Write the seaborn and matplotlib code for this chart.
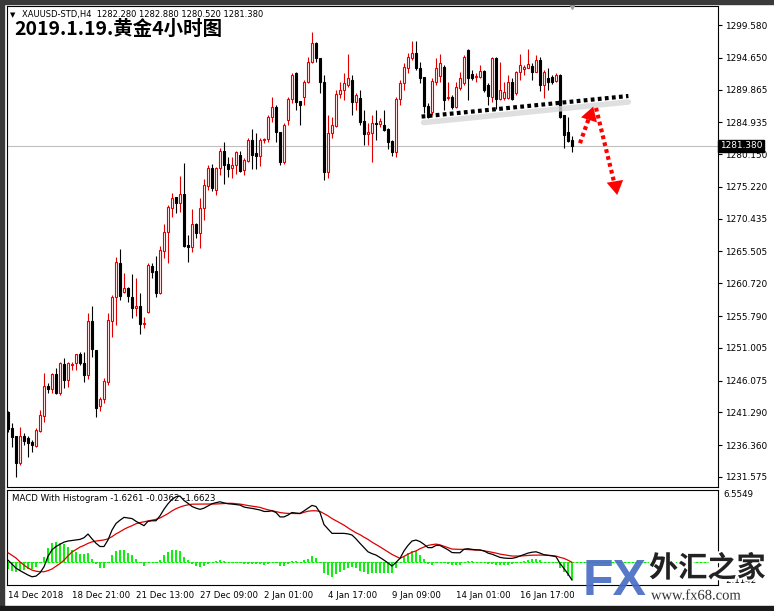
import numpy as np
import pandas as pd
import seaborn as sns
import matplotlib.pyplot as plt
import matplotlib.patheffects as pe
from matplotlib.patches import Rectangle

# XAUUSD H4 candles, 14 Dec 2018 -> 18 Jan 2019
opens = [1241.4, 1238.9, 1237.7, 1233.7, 1237.7, 1237.4, 1236.8, 1236.2, 1238.5, 1240.8,
         1245.3, 1244.8, 1247.1, 1244.2, 1248.6, 1246.2, 1248.4, 1248.7, 1250.1, 1248.7,
         1246.9, 1255.0, 1250.7, 1242.3, 1243.3, 1245.9, 1255.0, 1258.7, 1263.8, 1259.4,
         1260.0, 1258.7, 1257.0, 1257.3, 1254.6, 1256.4, 1263.3, 1262.6, 1259.3, 1265.6,
         1268.4, 1272.0, 1273.7, 1272.8, 1274.2, 1266.5, 1266.2, 1269.6, 1268.3, 1272.0,
         1275.4, 1278.1, 1274.8, 1278.1, 1280.6, 1278.7, 1278.1, 1278.5, 1280.0, 1277.8,
         1279.1, 1282.3, 1280.3, 1279.9, 1282.3, 1282.4, 1285.7, 1287.2, 1283.5, 1279.0,
         1285.3, 1288.4, 1292.4, 1288.1, 1288.7, 1291.0, 1294.0, 1296.9, 1294.6, 1291.0,
         1277.5, 1283.3, 1284.4, 1289.2, 1289.8, 1290.6, 1291.3, 1288.0, 1288.6, 1285.1,
         1283.2, 1283.3, 1284.8, 1284.7, 1284.5, 1283.9, 1282.1, 1280.5, 1288.4, 1290.9,
         1293.1, 1294.6, 1295.4, 1293.1, 1291.8, 1287.4, 1286.5, 1291.0, 1291.9, 1293.3,
         1288.6, 1288.8, 1287.2, 1290.1, 1290.9, 1295.8, 1292.2, 1291.8, 1291.8, 1292.7,
         1290.6, 1288.8, 1294.6, 1288.4, 1288.6, 1288.6, 1291.0, 1289.3, 1292.5, 1293.0,
         1293.1, 1293.4, 1292.5, 1294.3, 1290.6, 1291.6, 1291.8, 1291.2, 1292.1, 1286.0,
         1283.5, 1282.28]
highs = [1241.5, 1239.7, 1237.7, 1239.1, 1238.2, 1237.7, 1237.1, 1238.9, 1241.7, 1247.2,
         1245.7, 1247.2, 1248.0, 1248.9, 1249.5, 1248.9, 1248.9, 1250.1, 1250.4, 1250.4,
         1256.3, 1257.3, 1250.7, 1243.6, 1246.5, 1256.3, 1259.0, 1264.7, 1265.9, 1262.3,
         1260.2, 1262.1, 1261.5, 1259.2, 1255.6, 1263.8, 1263.8, 1264.8, 1266.3, 1269.6,
         1272.5, 1274.3, 1273.7, 1276.9, 1278.8, 1268.0, 1271.9, 1269.8, 1273.5, 1276.4,
         1278.5, 1278.7, 1278.2, 1281.1, 1282.0, 1279.7, 1279.7, 1280.6, 1280.6, 1279.6,
         1282.6, 1283.9, 1283.3, 1282.6, 1282.6, 1286.0, 1288.7, 1287.5, 1283.5, 1284.8,
         1288.7, 1292.4, 1292.5, 1288.1, 1291.3, 1294.8, 1298.5, 1297.0, 1294.6, 1292.1,
         1286.0, 1285.7, 1289.8, 1291.0, 1292.4, 1295.2, 1292.1, 1289.4, 1289.8, 1286.8,
         1284.8, 1286.0, 1286.8, 1285.6, 1286.8, 1284.1, 1282.3, 1288.7, 1291.3, 1293.9,
         1295.4, 1297.2, 1297.2, 1294.0, 1291.8, 1287.8, 1291.6, 1294.6, 1295.2, 1293.6,
         1291.0, 1289.1, 1291.0, 1292.5, 1295.1, 1296.0, 1292.8, 1292.4, 1293.6, 1292.8,
         1290.9, 1294.8, 1294.8, 1294.0, 1291.0, 1292.1, 1291.6, 1292.7, 1295.2, 1293.6,
         1296.0, 1293.9, 1295.1, 1294.8, 1292.8, 1293.1, 1292.1, 1292.4, 1292.2, 1286.0,
         1285.7, 1282.88]
lows = [1238.3, 1236.1, 1231.6, 1233.4, 1236.4, 1234.6, 1235.3, 1236.1, 1238.3, 1239.9,
        1244.2, 1244.2, 1244.1, 1243.9, 1245.0, 1245.1, 1247.7, 1247.7, 1248.4, 1245.9,
        1246.3, 1249.6, 1240.6, 1241.5, 1242.7, 1245.4, 1252.6, 1254.4, 1258.2, 1259.3,
        1257.9, 1255.5, 1255.8, 1253.1, 1254.0, 1256.2, 1261.5, 1258.6, 1259.1, 1264.5,
        1263.8, 1270.7, 1271.3, 1271.4, 1266.2, 1263.9, 1265.4, 1267.5, 1266.0, 1270.2,
        1274.8, 1274.6, 1274.0, 1277.0, 1275.7, 1276.7, 1276.6, 1277.2, 1277.5, 1277.0,
        1279.0, 1277.9, 1277.9, 1278.4, 1281.8, 1282.0, 1285.0, 1282.0, 1278.5, 1278.7,
        1284.5, 1287.8, 1286.8, 1284.5, 1287.5, 1290.9, 1293.9, 1294.0, 1289.4, 1276.3,
        1276.6, 1282.6, 1284.2, 1288.6, 1288.3, 1290.3, 1286.0, 1286.8, 1284.5, 1281.5,
        1281.5, 1279.0, 1282.3, 1284.2, 1283.6, 1280.9, 1279.9, 1279.7, 1287.5, 1289.8,
        1292.4, 1294.3, 1292.8, 1290.9, 1286.3, 1285.6, 1286.0, 1290.5, 1291.0, 1286.8,
        1288.3, 1286.9, 1287.1, 1289.8, 1290.5, 1288.3, 1291.3, 1291.0, 1291.6, 1289.5,
        1287.5, 1288.0, 1286.9, 1288.3, 1288.3, 1288.4, 1288.3, 1289.1, 1291.3, 1292.0,
        1293.1, 1291.3, 1292.5, 1289.6, 1288.6, 1289.8, 1290.7, 1291.0, 1285.6, 1281.1,
        1282.0, 1280.52]
closes = [1238.8, 1237.6, 1233.7, 1237.7, 1237.0, 1236.7, 1236.4, 1238.6, 1240.9, 1245.3,
          1244.8, 1247.1, 1244.2, 1248.7, 1246.2, 1248.7, 1248.6, 1250.1, 1248.7, 1246.9,
          1255.0, 1250.8, 1242.0, 1243.3, 1246.0, 1255.2, 1258.7, 1263.9, 1258.8, 1260.0,
          1258.8, 1257.0, 1257.3, 1254.6, 1254.7, 1263.5, 1262.4, 1259.3, 1265.7, 1268.4,
          1272.2, 1273.5, 1272.8, 1274.2, 1266.3, 1266.2, 1269.6, 1268.3, 1272.0, 1275.5,
          1278.1, 1275.1, 1278.1, 1280.6, 1278.5, 1277.9, 1278.5, 1280.5, 1277.6, 1279.3,
          1282.3, 1280.0, 1279.9, 1282.3, 1282.4, 1285.7, 1287.2, 1283.5, 1279.0, 1284.5,
          1288.4, 1292.1, 1288.0, 1287.5, 1291.0, 1294.0, 1296.9, 1294.6, 1291.0, 1277.5,
          1283.3, 1284.5, 1289.2, 1289.8, 1290.9, 1291.6, 1288.0, 1289.1, 1285.0, 1283.2,
          1283.5, 1284.8, 1284.7, 1285.1, 1283.8, 1282.0, 1280.5, 1288.4, 1290.9, 1293.3,
          1294.8, 1295.4, 1293.1, 1291.6, 1287.4, 1285.7, 1291.2, 1293.1, 1293.9, 1288.3,
          1288.8, 1287.2, 1290.3, 1291.6, 1294.8, 1291.6, 1291.6, 1291.9, 1292.7, 1289.8,
          1288.9, 1294.6, 1288.4, 1289.8, 1289.5, 1291.0, 1288.4, 1292.5, 1293.6, 1293.3,
          1293.7, 1292.5, 1294.3, 1290.6, 1292.5, 1291.0, 1291.0, 1292.1, 1285.7, 1283.0,
          1282.1, 1281.38]

# MACD pane (black = MACD, red = signal), read per bar
macd_line = [0.16, -0.2, -0.57, -0.8, -1.0, -1.2, -1.36, -1.3, -1.0, -0.45,
             0.5, 1.1, 1.4, 1.6, 1.8, 1.9, 1.95, 2.0, 2.05, 2.2,
             2.54, 2.1, 1.7, 1.4, 1.4, 2.0, 2.9, 3.5, 3.8, 4.06,
             4.0, 3.95, 3.7, 3.5, 3.3, 3.7, 3.75, 3.75, 4.2, 4.8,
             5.3, 5.7, 5.94, 6.0, 5.6, 5.34, 5.05, 4.9, 4.79, 4.9,
             5.1, 5.3, 5.4, 5.48, 5.38, 5.3, 5.27, 5.22, 5.18, 5.0,
             4.93, 4.88, 4.8, 4.73, 4.6, 4.6, 4.66, 4.5, 4.1, 4.1,
             4.27, 4.5, 4.45, 4.42, 4.65, 4.9, 5.15, 5.05, 4.5, 3.4,
             3.0, 2.6, 2.6, 2.6, 2.6, 2.55, 2.45, 2.1, 1.69, 1.3,
             0.92, 0.75, 0.62, 0.4, 0.16, -0.1, -0.38, -0.05, 0.32, 1.0,
             1.5, 1.9, 1.99, 1.85, 1.6, 1.3, 1.3, 1.5, 1.5, 1.3,
             1.1, 0.85, 0.83, 0.83, 1.15, 1.2, 1.14, 1.1, 1.08, 1.0,
             0.8, 0.7, 0.55, 0.41, 0.35, 0.32, 0.32, 0.4, 0.53, 0.65,
             0.8, 0.88, 0.92, 0.8, 0.65, 0.6, 0.55, 0.47, -0.14, -0.6,
             -1.1, -1.6623]
signal_line = [0.83, 0.6, 0.35, 0.0, -0.3, -0.55, -0.75, -0.85, -0.9, -0.9,
               -0.8, -0.65, -0.4, -0.15, 0.15, 0.55, 0.9, 1.12, 1.35, 1.5,
               1.69, 1.82, 1.9, 1.95, 2.0, 2.1, 2.3, 2.55, 2.75, 2.97,
               3.15, 3.3, 3.48, 3.58, 3.66, 3.73, 3.8, 3.88, 4.0, 4.2,
               4.4, 4.65, 4.85, 5.0, 5.12, 5.2, 5.26, 5.27, 5.27, 5.27,
               5.27, 5.27, 5.28, 5.3, 5.33, 5.34, 5.34, 5.3, 5.27, 5.2,
               5.14, 5.08, 5.02, 4.97, 4.85, 4.75, 4.67, 4.58, 4.5, 4.45,
               4.42, 4.42, 4.41, 4.4, 4.52, 4.62, 4.66, 4.66, 4.6, 4.4,
               4.2, 3.95, 3.75, 3.55, 3.35, 3.1, 2.88, 2.65, 2.48, 2.25,
               2.05, 1.8, 1.59, 1.37, 1.14, 0.9, 0.68, 0.5, 0.32, 0.5,
               0.7, 0.88, 1.0, 1.2, 1.35, 1.5, 1.57, 1.62, 1.55, 1.42,
               1.3, 1.17, 1.15, 1.14, 1.14, 1.12, 1.1, 1.08, 1.08, 1.0,
               0.95, 0.88, 0.8, 0.71, 0.65, 0.58, 0.53, 0.53, 0.53, 0.56,
               0.59, 0.61, 0.62, 0.62, 0.62, 0.6, 0.57, 0.53, 0.41, 0.32,
               0.15, -0.0362]

price_ticks = [1299.580, 1294.650, 1289.865, 1284.935, 1280.150, 1275.220, 1270.435,
               1265.505, 1260.720, 1255.790, 1251.005, 1246.075, 1241.290, 1236.360, 1231.575]
time_labels = ["14 Dec 2018", "18 Dec 21:00", "21 Dec 13:00", "27 Dec 09:00", "2 Jan 01:00",
               "4 Jan 17:00", "9 Jan 09:00", "14 Jan 01:00", "16 Jan 17:00"]
time_label_bars = [0, 16, 32, 48, 64, 80, 96, 112, 128]
last_price = 1281.38

df = pd.DataFrame({"bar": np.arange(len(closes)), "open": opens, "high": highs,
                   "low": lows, "close": closes, "macd": macd_line, "signal": signal_line})
df["hist"] = df["macd"] - df["signal"]
up = df["close"] >= df["open"]

sns.set_style("white")
plt.rcParams["font.family"] = ["DejaVu Sans", "Noto Sans CJK SC"]
plt.rcParams["text.color"] = "black"
plt.rcParams["xtick.color"] = "black"
plt.rcParams["ytick.color"] = "black"

W, H = 774, 611


def px_box(left, top, right, bottom):
    return [left / W, 1 - bottom / H, (right - left) / W, (bottom - top) / H]


fig = plt.figure(figsize=(W / 100, H / 100), dpi=100)
ax = fig.add_axes(px_box(7, 6, 718, 487))
ax2 = fig.add_axes(px_box(7, 490, 718, 585))

# candles
wick_col = np.where(up, "#e00000", "black")
ax.vlines(df["bar"], df["low"], df["high"], colors=wick_col, lw=0.8, zorder=2)
body_low = df[["open", "close"]].min(axis=1)
body_h = (df["close"] - df["open"]).abs().clip(lower=0.04)
ax.bar(df["bar"][up], body_h[up], bottom=body_low[up], width=0.5,
       facecolor="white", edgecolor="#e00000", lw=0.8, zorder=3)
ax.bar(df["bar"][~up], body_h[~up], bottom=body_low[~up], width=0.5,
       facecolor="black", edgecolor="black", lw=0.8, zorder=3)

ax.axhline(last_price, color="#c0c0c0", lw=0.8, zorder=1)

ax.set_xlim(-0.25, 177.5)
ax.set_ylim(1230.07, 1302.44)
ax.yaxis.tick_right()
ax.set_yticks(price_ticks)
ax.set_yticklabels([f"{t:.3f}" for t in price_ticks])
ax.tick_params(axis="y", direction="out", length=3, width=0.8, pad=2, labelsize=6.4)
ax.tick_params(axis="x", bottom=False, labelbottom=False)
ax.text(1.003, last_price, "1281.380", transform=ax.get_yaxis_transform(), fontsize=6.4,
        color="white", va="center", ha="left", zorder=10, clip_on=False,
        bbox=dict(boxstyle="square,pad=0.2", fc="black", ec="black"))
# chart shift marker
ax.plot([141], [1.0], marker="v", ms=5, color="#a0a0a0", clip_on=False,
        transform=ax.get_xaxis_transform(), zorder=10)

# neckline and arrows
ax.plot([103.9, 155.1], [1284.9, 1288.0], color="#d8d8d8", lw=4, alpha=0.8,
        solid_capstyle="round", zorder=4)
ax.plot([103.4, 155.1], [1285.8, 1288.9], color="black", lw=3, zorder=5,
        dashes=(0.9, 0.8), dash_capstyle="butt")
ax.plot([143.0, 145.6], [1281.8, 1286.2], color="red", lw=3, zorder=5,
        dashes=(0.9, 0.8), dash_capstyle="butt")
ax.annotate("", xy=(146.3, 1287.3), xytext=(145.4, 1285.6), zorder=6,
            arrowprops=dict(arrowstyle="-|>,head_length=1.0,head_width=0.6",
                            color="red", lw=0, shrinkA=0, shrinkB=0))
ax.plot([147.0, 151.5], [1287.1, 1276.0], color="red", lw=3, zorder=5,
        dashes=(0.9, 0.8), dash_capstyle="butt")
ax.annotate("", xy=(152.3, 1274.0), xytext=(151.8, 1275.8), zorder=6,
            arrowprops=dict(arrowstyle="-|>,head_length=1.0,head_width=0.6",
                            color="red", lw=0, shrinkA=0, shrinkB=0))

# MACD pane
ax2.axhline(0, color="#00ee00", lw=0.72, dashes=(3, 1), zorder=1)
ax2.bar(df["bar"], df["hist"], width=0.64, color="#10f010", lw=0,
        antialiased=False, zorder=2)
sns.lineplot(data=df, x="bar", y="signal", ax=ax2, color="#e00000", lw=0.9, zorder=3)
sns.lineplot(data=df, x="bar", y="macd", ax=ax2, color="black", lw=0.9, zorder=4)
ax2.set_xlim(-0.25, 177.5)
ax2.set_ylim(-2.11, 6.5549)
ax2.set_xlabel("")
ax2.set_ylabel("")
ax2.set_yticks([])
ax2.set_xticks(time_label_bars)
ax2.set_xticklabels(time_labels, ha="left")
ax2.tick_params(axis="x", direction="out", length=3, width=0.8, pad=1.5, labelsize=6.2)
ax2.text(1.008, 1.0, "6.5549", transform=ax2.transAxes, fontsize=6.2, va="top", ha="left")
ax2.text(1.008, 0.0, "-2.1142", transform=ax2.transAxes, fontsize=6.2, va="bottom", ha="left")
ax2.text(0.007, 0.955, "MACD With Histogram -1.6261 -0.0362 -1.6623",
         transform=ax2.transAxes, fontsize=6.2, va="top", ha="left")

for a in (ax, ax2):
    for s in a.spines.values():
        s.set_color("black")
        s.set_linewidth(0.8)

# header texts
fig.text(10 / W, 1 - 15 / H, "\u25bc", fontsize=5, va="center", ha="left")
fig.text(22 / W, 1 - 15 / H, "XAUUSD-STD,H4  1282.280 1282.880 1280.520 1281.380",
         fontsize=6, va="center", ha="left")
fig.text(14 / W, 1 - 29 / H, "2019.1.19.黄金4小时图", fontsize=14, fontweight="bold",
         family=["Noto Sans CJK SC"], va="center", ha="left", color="black")

# window border
fig.patches.append(Rectangle((0, 0), 4 / W, 1, transform=fig.transFigure, color="#3a3a3a"))
fig.patches.append(Rectangle((0, 1 - 4 / H), 1, 4 / H, transform=fig.transFigure, color="#3a3a3a"))
fig.patches.append(Rectangle((0, 0), 1, 5 / H, transform=fig.transFigure, color="#1a1a1a"))

# watermark
fig.text(583 / W, 1 - 582 / H, "FX", fontsize=36, fontweight="bold", color="#4a6cc4",
         family=["Liberation Sans"], va="center", ha="left", alpha=0.92)
fig.text(649 / W, 1 - 568 / H, "外汇之家", fontsize=21, fontweight="bold", color="#222222",
         family=["Noto Sans CJK SC"], va="center", ha="left",
         path_effects=[pe.withStroke(linewidth=3, foreground="white")])
fig.text(651 / W, 1 - 596 / H, "www.fx68.com", fontsize=10.5, color="#333333",
         family=["Liberation Serif"], va="center", ha="left",
         path_effects=[pe.withStroke(linewidth=2, foreground="white")])

fig.savefig("out.png", dpi=100)
